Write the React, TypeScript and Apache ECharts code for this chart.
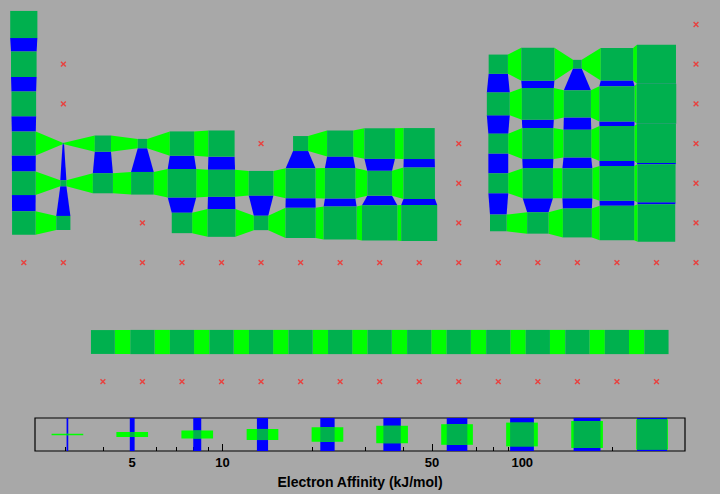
import React, { useEffect, useRef } from "react";
import * as echarts from "echarts";

// E = no element in this cell, X = element without a value (drawn as a red cross)
const E = undefined;
const X = null;

// Electron affinity, kJ/mol, by group 1..18
const period1 = [72.8, E, E, E, E, E, E, E, E, E, E, E, E, E, E, E, E, X];
const period2 = [59.6, X, E, E, E, E, E, E, E, E, E, E, 26.7, 153.9, 7, 141, 328, X];
const period3 = [52.8, X, E, E, E, E, E, E, E, E, E, E, 42.5, 133.6, 72, 200, 349, X];
const period4 = [48.4, 2.37, 18.1, 7.6, 50.6, 64.3, X, 15.7, 63.7, 112, 118.4, X, 28.9, 119, 78, 195, 324.6, X];
const period5 = [46.9, 5.03, 29.6, 41.1, 86.1, 71.9, 53, 101.3, 109.7, 53.7, 125.6, X, 28.9, 107.3, 103.2, 190.2, 295.2, X];
const period6 = [45.5, 13.95, E, X, 31, 78.6, 14.5, 106.1, 151, 205.3, 222.8, X, 19.2, 35.1, 91.2, 183.3, 270.1, X];
const period7 = [X, X, E, X, X, X, X, X, X, X, X, X, X, X, X, X, X, X];
const lanthanides = [E, E, 48, 50, 50, 50, 50, 50, 50, 50, 50, 50, 50, 50, 50, 50, 50, E];
const actinides = [E, E, X, X, X, X, X, X, X, X, X, X, X, X, X, X, X, E];

// legend sample values and axis ticks
const legendValues = [3.04, 5.0, 8.24, 13.6, 22.4, 36.8, 60.6, 99.8, 164.5, 271];
const majorTicks = [5, 10, 50, 100];
const minorTicks = [3, 4, 6, 7, 8, 9, 20, 30, 40, 60, 70, 80, 90, 200, 300];
const axisMin = 2.37;
const axisMax = 349;

const DARK = "#00b04e";
const LIGHT = "#00ff00";
const BLUE = "#0000ff";
const CROSS = "#e8413f";
const BG = "#a8a8a8";
const FONT = "'Liberation Sans', Arial, Helvetica, sans-serif";

const V0 = 2.33;
const frac = (v: number) => Math.max(0, Math.log(v / V0) / Math.log(axisMax / V0));

const rows: any[][] = [period1, period2, period3, period4, period5, period6, period7, [], lanthanides, actinides];
const isNum = (v: any) => typeof v === "number";

const squares: number[][] = [];
const missing: number[][] = [];
const hConn: number[][] = [];
const vConn: number[][] = [];
rows.forEach((row, r) => {
  for (let c = 0; c < 18; c++) {
    const v = row[c];
    if (isNum(v)) squares.push([c + 1, r + 1, v]);
    else if (v === null) missing.push([c + 1, r + 1]);
    if (isNum(v) && isNum(row[c + 1])) hConn.push([c + 1, r + 1, v, row[c + 1]]);
    const below = rows[r + 1];
    if (below && isNum(v) && isNum(below[c])) vConn.push([c + 1, r + 1, v, below[c]]);
  }
});

export default function App() {
  const ref = useRef<HTMLDivElement>(null);
  useEffect(() => {
    const chart = echarts.init(ref.current!, null, { renderer: "svg" });
    const cellOf = (api: any) => Math.abs(api.size([1, 1])[0]);
    const option: any = {
      animation: false,
      backgroundColor: BG,
      grid: [
        { left: 23.8, right: 24, top: 24.5, bottom: 112.3, show: false },
        { left: 35, right: 35, top: 418, height: 33, show: true, borderColor: "#000", borderWidth: 1.2, backgroundColor: "transparent" },
        { left: 35, right: 35, top: 418, height: 33, show: false },
      ],
      xAxis: [
        { gridIndex: 0, type: "value", min: 1, max: 18, show: false },
        {
          gridIndex: 1,
          type: "value",
          min: Math.log10(axisMin),
          max: Math.log10(axisMax),
          axisLine: { show: false },
          splitLine: { show: false },
          axisTick: { show: true, inside: true, length: 7, lineStyle: { color: "#000", width: 1 }, customValues: majorTicks.map((v) => Math.log10(v)) },
          axisLabel: {
            customValues: majorTicks.map((v) => Math.log10(v)),
            formatter: (v: number) => String(Math.round(Math.pow(10, v))),
            color: "#000",
            fontFamily: FONT,
            fontWeight: "bold",
            fontSize: 13,
            margin: 5,
          },
          name: "Electron Affinity (kJ/mol)",
          nameLocation: "middle",
          nameGap: 24,
          nameTextStyle: { color: "#000", fontFamily: FONT, fontWeight: "bold", fontSize: 14 },
        },
        {
          gridIndex: 2,
          type: "value",
          min: Math.log10(axisMin),
          max: Math.log10(axisMax),
          axisLine: { show: false },
          splitLine: { show: false },
          axisTick: { show: true, inside: true, length: 4, lineStyle: { color: "#000", width: 1 }, customValues: minorTicks.map((v) => Math.log10(v)) },
          axisLabel: { show: false },
        },
      ],
      yAxis: [
        { gridIndex: 0, type: "value", min: 1, max: 10, inverse: true, show: false },
        { gridIndex: 1, type: "value", min: 0, max: 1, show: false },
        { gridIndex: 2, type: "value", min: 0, max: 1, show: false },
      ],
      series: [
        {
          type: "custom",
          name: "horizontal links",
          xAxisIndex: 0,
          yAxisIndex: 0,
          z: 2,
          clip: false,
          data: hConn,
          renderItem: (params: any, api: any) => {
            const cell = cellOf(api);
            const p1 = api.coord([api.value(0), api.value(1)]);
            const p2 = api.coord([api.value(0) + 1, api.value(1)]);
            const s1 = Math.max(1.5, cell * frac(api.value(2)));
            const s2 = Math.max(1.5, cell * frac(api.value(3)));
            return {
              type: "polygon",
              shape: {
                points: [
                  [p1[0] + s1 / 2, p1[1] - s1 / 2],
                  [p2[0] - s2 / 2, p2[1] - s2 / 2],
                  [p2[0] - s2 / 2, p2[1] + s2 / 2],
                  [p1[0] + s1 / 2, p1[1] + s1 / 2],
                ],
              },
              style: { fill: LIGHT },
            };
          },
        },
        {
          type: "custom",
          name: "vertical links",
          xAxisIndex: 0,
          yAxisIndex: 0,
          z: 2,
          clip: false,
          data: vConn,
          renderItem: (params: any, api: any) => {
            const cell = cellOf(api);
            const p1 = api.coord([api.value(0), api.value(1)]);
            const p2 = api.coord([api.value(0), api.value(1) + 1]);
            const s1 = Math.max(1.5, cell * frac(api.value(2)));
            const s2 = Math.max(1.5, cell * frac(api.value(3)));
            return {
              type: "polygon",
              shape: {
                points: [
                  [p1[0] - s1 / 2, p1[1] + s1 / 2],
                  [p1[0] + s1 / 2, p1[1] + s1 / 2],
                  [p2[0] + s2 / 2, p2[1] - s2 / 2],
                  [p2[0] - s2 / 2, p2[1] - s2 / 2],
                ],
              },
              style: { fill: BLUE },
            };
          },
        },
        {
          type: "custom",
          name: "elements",
          xAxisIndex: 0,
          yAxisIndex: 0,
          z: 3,
          clip: false,
          data: squares,
          renderItem: (params: any, api: any) => {
            const cell = cellOf(api);
            const p = api.coord([api.value(0), api.value(1)]);
            const s = Math.max(1.5, cell * frac(api.value(2)));
            return { type: "rect", shape: { x: p[0] - s / 2, y: p[1] - s / 2, width: s, height: s }, style: { fill: DARK } };
          },
        },
        {
          type: "custom",
          name: "missing",
          xAxisIndex: 0,
          yAxisIndex: 0,
          z: 4,
          clip: false,
          data: missing,
          renderItem: (params: any, api: any) => {
            const p = api.coord([api.value(0), api.value(1)]);
            const h = 2.4;
            const st = { stroke: CROSS, lineWidth: 1.4 };
            return {
              type: "group",
              children: [
                { type: "line", shape: { x1: p[0] - h, y1: p[1] - h, x2: p[0] + h, y2: p[1] + h }, style: st },
                { type: "line", shape: { x1: p[0] - h, y1: p[1] + h, x2: p[0] + h, y2: p[1] - h }, style: st },
              ],
            };
          },
        },
        {
          type: "custom",
          name: "legend",
          xAxisIndex: 1,
          yAxisIndex: 1,
          z: 3,
          clip: false,
          data: legendValues.map((v) => [Math.log10(v), v]),
          renderItem: (params: any, api: any) => {
            const cell = 39.6 * 0.8;
            const p = api.coord([api.value(0), 0.5]);
            const top = api.coord([api.value(0), 1])[1];
            const bottom = api.coord([api.value(0), 0])[1];
            const s = Math.max(1, cell * frac(api.value(1)));
            return {
              type: "group",
              children: [
                { type: "rect", shape: { x: p[0] - s / 2, y: top, width: s, height: bottom - top }, style: { fill: BLUE } },
                { type: "rect", shape: { x: p[0] - cell / 2, y: p[1] - s / 2, width: cell, height: s }, style: { fill: LIGHT } },
                { type: "rect", shape: { x: p[0] - s / 2, y: p[1] - s / 2, width: s, height: s }, style: { fill: DARK } },
              ],
            };
          },
        },
      ],
    };
    chart.setOption(option);
    return () => chart.dispose();
  }, []);
  return <div ref={ref} style={{ position: "absolute", left: 0, top: 0, width: 720, height: 494 }} />;
}
